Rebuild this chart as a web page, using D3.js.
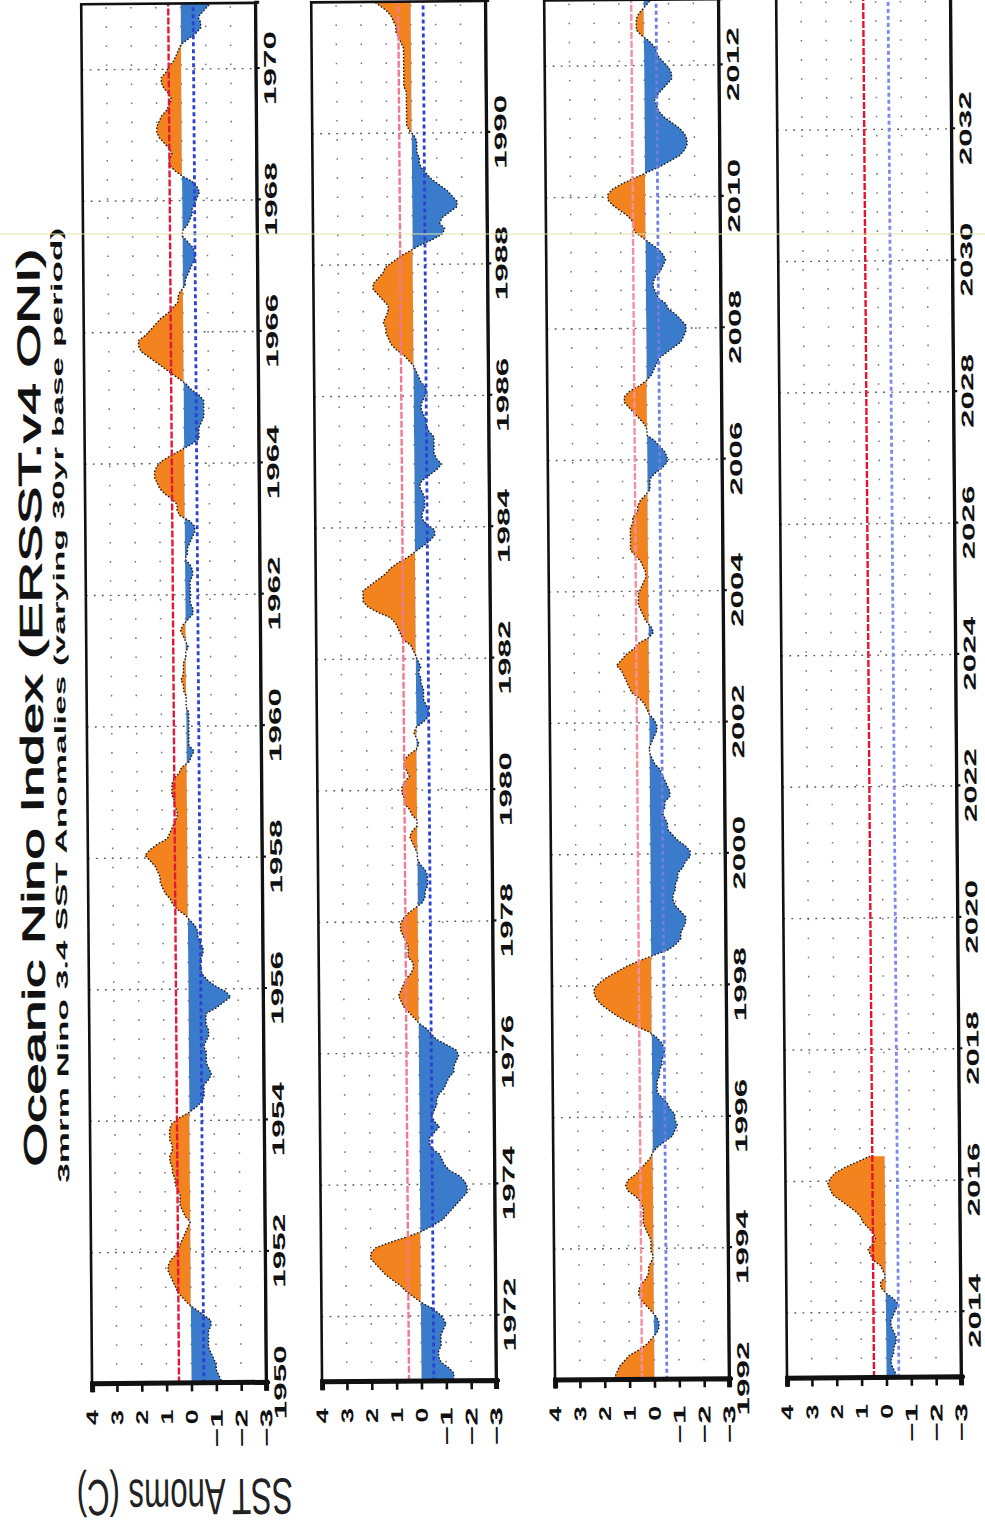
<!DOCTYPE html>
<html>
<head>
<meta charset="utf-8">
<script src="https://cdn.jsdelivr.net/npm/d3@7"></script>
<style>
  body { margin: 0; background: #fff; }
  svg { display: block; }
</style>
</head>
<body>
<script>
// ---- data -------------------------------------------------------------
// 3-month running-mean Nino 3.4 anomalies (deg C), one row per year,
// seasons DJF .. NDJ, starting 1950 and running to AMJ 2016.
const seasons = ["DJF","JFM","FMA","MAM","AMJ","MJJ","JJA","JAS","ASO","SON","OND","NDJ"];
const firstYear = 1950;
const oni = [
  -1.2,-1.1,-1.0,-1.0,-0.9,-0.8,-0.7,-0.7,-0.7,-0.7,-0.8,-0.8, // 1950
  -0.5,-0.2, 0.1, 0.3, 0.5, 0.6, 0.7, 0.8, 0.9, 0.9, 0.8, 0.6, // 1951
   0.5, 0.4, 0.3, 0.2, 0.1, 0.0, 0.2, 0.3, 0.4, 0.4, 0.4, 0.5, // 1952
   0.6, 0.6, 0.7, 0.7, 0.8, 0.8, 0.7, 0.7, 0.8, 0.8, 0.8, 0.7, // 1953
   0.4, 0.0,-0.3,-0.5,-0.6,-0.6,-0.6,-0.8,-0.9,-0.8,-0.7,-0.7, // 1954
  -0.7,-0.6,-0.7,-0.8,-0.8,-0.7,-0.7,-0.7,-1.1,-1.4,-1.7,-1.5, // 1955
  -1.1,-0.8,-0.6,-0.5,-0.5,-0.5,-0.6,-0.6,-0.5,-0.4,-0.4,-0.3, // 1956
  -0.1, 0.1, 0.4, 0.6, 0.7, 0.9, 1.0, 1.1, 1.1, 1.2, 1.3, 1.5, // 1957
   1.7, 1.5, 1.2, 0.8, 0.7, 0.6, 0.5, 0.4, 0.4, 0.5, 0.5, 0.6, // 1958
   0.6, 0.6, 0.5, 0.3, 0.2,-0.1,-0.2,-0.3,-0.1,-0.1,-0.1,-0.1, // 1959
  -0.1,-0.1,-0.1, 0.0, 0.0, 0.0, 0.1, 0.1, 0.2, 0.1, 0.1, 0.1, // 1960
   0.0, 0.0,-0.1, 0.0, 0.1, 0.2, 0.1,-0.1,-0.3,-0.3,-0.2,-0.2, // 1961
  -0.2,-0.2,-0.2,-0.3,-0.3,-0.2, 0.0,-0.1,-0.1,-0.2,-0.3,-0.4, // 1962
  -0.4,-0.2, 0.2, 0.3, 0.3, 0.5, 0.8, 1.0, 1.1, 1.2, 1.2, 1.1, // 1963
   0.9, 0.5, 0.1,-0.3,-0.6,-0.6,-0.6,-0.7,-0.8,-0.8,-0.8,-0.8, // 1964
  -0.6,-0.3,-0.1, 0.2, 0.5, 0.8, 1.1, 1.4, 1.7, 1.8, 1.8, 1.5, // 1965
   1.3, 1.1, 0.9, 0.6, 0.4, 0.2, 0.2, 0.1,-0.1,-0.1,-0.2,-0.3, // 1966
  -0.4,-0.5,-0.5,-0.4,-0.2, 0.0, 0.0,-0.2,-0.3,-0.4,-0.4,-0.5, // 1967
  -0.6,-0.7,-0.6,-0.4, 0.0, 0.3, 0.5, 0.5, 0.4, 0.5, 0.7, 0.9, // 1968
   1.0, 1.0, 0.9, 0.8, 0.6, 0.5, 0.4, 0.5, 0.7, 0.8, 0.8, 0.6, // 1969
   0.5, 0.3, 0.2, 0.1, 0.0,-0.3,-0.6,-0.8,-0.8,-0.7,-0.9,-1.1, // 1970
  -1.3,-1.3,-1.1,-0.8,-0.7,-0.7,-0.8,-0.8,-0.8,-0.9,-1.0,-0.9, // 1971
  -0.7,-0.4, 0.0, 0.3, 0.6, 0.8, 1.1, 1.4, 1.6, 1.8, 2.0, 2.0, // 1972
   1.8, 1.2, 0.5,-0.1,-0.5,-0.9,-1.1,-1.3,-1.5,-1.7,-1.9,-1.9, // 1973
  -1.8,-1.6,-1.2,-1.0,-0.9,-0.8,-0.5,-0.4,-0.4,-0.6,-0.8,-0.6, // 1974
  -0.5,-0.6,-0.7,-0.7,-0.8,-1.0,-1.1,-1.2,-1.4,-1.4,-1.5,-1.6, // 1975
  -1.5,-1.1,-0.7,-0.5,-0.3, 0.0, 0.2, 0.4, 0.6, 0.7, 0.8, 0.7, // 1976
   0.6, 0.5, 0.3, 0.2, 0.2, 0.4, 0.4, 0.4, 0.5, 0.6, 0.7, 0.7, // 1977
   0.6, 0.4, 0.1,-0.2,-0.3,-0.3,-0.4,-0.4,-0.4,-0.3,-0.1, 0.0, // 1978
   0.0, 0.1, 0.2, 0.3, 0.2, 0.0, 0.0, 0.2, 0.3, 0.5, 0.5, 0.6, // 1979
   0.6, 0.5, 0.3, 0.4, 0.5, 0.5, 0.3, 0.0,-0.1, 0.0, 0.1, 0.0, // 1980
  -0.3,-0.5,-0.5,-0.4,-0.3,-0.3,-0.3,-0.2,-0.2,-0.1,-0.2,-0.1, // 1981
   0.0, 0.1, 0.2, 0.5, 0.6, 0.7, 0.8, 1.0, 1.5, 1.9, 2.1, 2.1, // 1982
   2.1, 1.8, 1.5, 1.2, 1.0, 0.7, 0.3, 0.0,-0.3,-0.6,-0.8,-0.8, // 1983
  -0.5,-0.3,-0.3,-0.4,-0.4,-0.4,-0.3,-0.2,-0.3,-0.6,-0.9,-1.1, // 1984
  -0.9,-0.8,-0.8,-0.8,-0.8,-0.6,-0.5,-0.5,-0.4,-0.3,-0.3,-0.4, // 1985
  -0.5,-0.5,-0.3,-0.2,-0.1, 0.0, 0.2, 0.4, 0.7, 0.9, 1.0, 1.1, // 1986
   1.1, 1.2, 1.1, 1.0, 1.0, 1.2, 1.4, 1.6, 1.6, 1.4, 1.2, 1.1, // 1987
   0.8, 0.5, 0.1,-0.3,-0.8,-1.2,-1.3,-1.1,-1.2,-1.5,-1.8,-1.8, // 1988
  -1.6,-1.4,-1.1,-0.8,-0.6,-0.4,-0.3,-0.3,-0.2,-0.2,-0.2,-0.1, // 1989
   0.1, 0.2, 0.2, 0.2, 0.2, 0.2, 0.2, 0.2, 0.3, 0.3, 0.3, 0.3, // 1990
   0.3, 0.3, 0.3, 0.3, 0.4, 0.5, 0.6, 0.6, 0.7, 0.8, 1.0, 1.3, // 1991
   1.6, 1.5, 1.4, 1.2, 1.0, 0.6, 0.3, 0.1,-0.1,-0.2,-0.2,-0.1, // 1992
   0.1, 0.3, 0.5, 0.6, 0.6, 0.5, 0.3, 0.2, 0.2, 0.1, 0.0, 0.1, // 1993
   0.1, 0.1, 0.2, 0.3, 0.4, 0.4, 0.4, 0.4, 0.5, 0.7, 1.0, 1.1, // 1994
   1.0, 0.7, 0.5, 0.3, 0.1, 0.0,-0.2,-0.5,-0.8,-0.9,-1.0,-0.9, // 1995
  -0.9,-0.7,-0.6,-0.4,-0.2,-0.2,-0.2,-0.3,-0.3,-0.4,-0.4,-0.5, // 1996
  -0.5,-0.4,-0.2, 0.1, 0.6, 1.0, 1.4, 1.7, 2.0, 2.2, 2.3, 2.3, // 1997
   2.1, 1.8, 1.4, 1.0, 0.5,-0.1,-0.7,-1.0,-1.2,-1.2,-1.3,-1.4, // 1998
  -1.4,-1.2,-1.0,-0.9,-0.9,-1.0,-1.0,-1.1,-1.1,-1.3,-1.4,-1.6, // 1999
  -1.6,-1.4,-1.1,-0.9,-0.7,-0.7,-0.6,-0.5,-0.6,-0.6,-0.8,-0.8, // 2000
  -0.7,-0.6,-0.5,-0.4,-0.2,-0.1, 0.0, 0.0,-0.1,-0.2,-0.3,-0.3, // 2001
  -0.2, 0.0, 0.1, 0.2, 0.4, 0.7, 0.8, 0.9, 1.0, 1.1, 1.3, 1.1, // 2002
   0.9, 0.6, 0.4, 0.0,-0.2,-0.1, 0.1, 0.2, 0.3, 0.4, 0.4, 0.4, // 2003
   0.3, 0.2, 0.1, 0.1, 0.2, 0.3, 0.5, 0.7, 0.7, 0.7, 0.7, 0.7, // 2004
   0.6, 0.6, 0.4, 0.4, 0.3, 0.1,-0.1,-0.1,-0.1,-0.3,-0.6,-0.8, // 2005
  -0.8,-0.7,-0.5,-0.3, 0.0, 0.0, 0.1, 0.3, 0.5, 0.7, 0.9, 0.9, // 2006
   0.7, 0.3, 0.0,-0.2,-0.3,-0.4,-0.5,-0.8,-1.1,-1.4,-1.5,-1.6, // 2007
  -1.6,-1.4,-1.2,-0.9,-0.8,-0.5,-0.4,-0.3,-0.3,-0.4,-0.6,-0.7, // 2008
  -0.8,-0.7,-0.5,-0.2, 0.1, 0.4, 0.5, 0.5, 0.7, 1.0, 1.3, 1.5, // 2009
   1.5, 1.3, 0.9, 0.4,-0.1,-0.6,-1.0,-1.4,-1.6,-1.7,-1.7,-1.6, // 2010
  -1.4,-1.1,-0.8,-0.6,-0.5,-0.4,-0.5,-0.7,-0.9,-1.1,-1.1,-1.0, // 2011
  -0.8,-0.6,-0.5,-0.4,-0.2, 0.1, 0.3, 0.3, 0.3, 0.2, 0.0,-0.2, // 2012
  -0.4,-0.3,-0.2,-0.2,-0.3,-0.3,-0.4,-0.4,-0.3,-0.2,-0.2,-0.3, // 2013
  -0.4,-0.5,-0.3, 0.0, 0.2, 0.2, 0.0, 0.1, 0.2, 0.5, 0.6, 0.7, // 2014
   0.5, 0.4, 0.5, 0.7, 0.9, 1.0, 1.2, 1.5, 1.8, 2.1, 2.2, 2.3, // 2015
   2.2, 2.0, 1.6, 1.1, 0.6                                      // 2016
];

// panel layout: each strip covers 21 years
const panelStarts = [1950, 1971, 1992, 2013];
const panelSpan = 21;
const yearTicks = [
  [1950, 1952, 1954, 1956, 1958, 1960, 1962, 1964, 1966, 1968, 1970],
  [1972, 1974, 1976, 1978, 1980, 1982, 1984, 1986, 1988, 1990],
  [1992, 1994, 1996, 1998, 2000, 2002, 2004, 2006, 2008, 2010, 2012],
  [2014, 2016, 2018, 2020, 2022, 2024, 2026, 2028, 2030, 2032]
];
const valueTicks = [-3, -2, -1, 0, 1, 2, 3, 4];
const valueGrid = [-2, -1, 0, 1, 2, 3];
const thresholds = [0.5, -0.5];

const titleText = "Oceanic Nino Index (ERSST.v4 ONI)";
const subtitleText = "3mrm Nino 3.4 SST Anomalies (varying 30yr base period)";
const axisTitleText = "SST Anoms (C)";

// ---- drawing ----------------------------------------------------------
const W = 985, H = 1532;
const FONT = "'Liberation Sans', Arial, Helvetica, sans-serif";

const series = oni.map((v, i) => ({
  t: firstYear + Math.floor(i / 12) + ((i % 12) + 0.5) / 12,
  v
}));

const svg = d3.select("body").append("svg")
  .attr("width", W).attr("height", H)
  .attr("viewBox", `0 0 ${W} ${H}`);

svg.append("rect").attr("width", W).attr("height", H).attr("fill", "#fff");
const defs = svg.append("defs");

// the sheet is laid out landscape and turned a quarter turn to stand upright
const sheet = svg.append("g").attr("transform", "rotate(-0.45, 492, 766)");
const chart = sheet.append("g").attr("transform", `translate(0, ${H}) rotate(-90)`);

// chart coordinates: x runs along time, y runs down the value axis
const plotX0 = 151, plotX1 = 1531;
const panelTops = [87.2, 317.2, 550.2, 782.2];
const panelH = 174;

const orange = "#F3831E";
const blue = "#3B7BCB";
// threshold line inks, one pair per strip
const warmInk = ["#E3163C", "#F07A90", "#F3909F", "#E6112E"];
const coldInk = ["#2C40D6", "#2C40D6", "#6F7DE4", "#7C88EA"];

panelStarts.forEach((start, k) => {
  const top = panelTops[k];
  const bottom = top + panelH;
  const x = d3.scaleLinear().domain([start, start + panelSpan]).range([plotX0, plotX1]);
  const y = d3.scaleLinear().domain([-3, 4]).range([bottom, top]);
  const y0 = y(0);

  const g = chart.append("g").attr("class", "panel");

  // clip regions: whole panel, warm half, cold half
  const clipId = `clip-${k}`, warmId = `warm-${k}`, coldId = `cold-${k}`;
  defs.append("clipPath").attr("id", clipId).append("rect")
    .attr("x", plotX0).attr("y", top).attr("width", plotX1 - plotX0).attr("height", panelH);
  defs.append("clipPath").attr("id", warmId).append("rect")
    .attr("x", plotX0).attr("y", top).attr("width", plotX1 - plotX0).attr("height", y0 - top);
  defs.append("clipPath").attr("id", coldId).append("rect")
    .attr("x", plotX0).attr("y", y0).attr("width", plotX1 - plotX0).attr("height", bottom - y0);

  // dotted value grid
  g.append("g").selectAll("line").data(valueGrid).join("line")
    .attr("x1", plotX0).attr("x2", plotX1)
    .attr("y1", d => y(d)).attr("y2", d => y(d))
    .attr("stroke", "#777").attr("stroke-width", 1.5)
    .attr("stroke-dasharray", "1.6,17.5");

  // dotted time grid at the labelled years
  g.append("g").selectAll("line")
    .data(yearTicks[k].filter(d => d > start && d < start + panelSpan)).join("line")
    .attr("x1", d => x(d)).attr("x2", d => x(d))
    .attr("y1", top).attr("y2", bottom)
    .attr("stroke", "#555").attr("stroke-width", 1.4)
    .attr("stroke-dasharray", "1.8,6.2");

  const pts = series.filter(d => d.t >= start - 0.2 && d.t <= start + panelSpan + 0.2);

  const area = d3.area()
    .x(d => x(d.t))
    .y0(y0)
    .y1(d => y(d.v));

  const body = g.append("g").attr("clip-path", `url(#${clipId})`);
  body.append("path").datum(pts)
    .attr("d", area).attr("fill", orange)
    .attr("clip-path", `url(#${warmId})`);
  body.append("path").datum(pts)
    .attr("d", area).attr("fill", blue)
    .attr("clip-path", `url(#${coldId})`);

  // anomaly outline
  body.append("path").datum(pts)
    .attr("d", d3.line().x(d => x(d.t)).y(d => y(d.v)))
    .attr("fill", "none").attr("stroke", "#1b1b1b")
    .attr("stroke-width", 1.4).attr("stroke-dasharray", "1.6,1.8");

  // El Nino / La Nina thresholds
  body.append("line")
    .attr("x1", plotX0).attr("x2", plotX1)
    .attr("y1", y(thresholds[0])).attr("y2", y(thresholds[0]))
    .attr("stroke", warmInk[k]).attr("stroke-width", 2.4)
    .attr("stroke-dasharray", "7,2");
  body.append("line")
    .attr("x1", plotX0).attr("x2", plotX1)
    .attr("y1", y(thresholds[1])).attr("y2", y(thresholds[1]))
    .attr("stroke", coldInk[k]).attr("stroke-width", 2.8)
    .attr("stroke-dasharray", "4,3");

  // frame
  g.append("rect")
    .attr("x", plotX0).attr("y", top)
    .attr("width", plotX1 - plotX0).attr("height", panelH)
    .attr("fill", "none").attr("stroke", "#111").attr("stroke-width", 2.6);

  // value axis
  const yAxis = g.append("g")
    .attr("transform", `translate(${plotX0},0)`)
    .call(d3.axisLeft(y).tickValues(valueTicks).tickSize(8).tickPadding(18)
      .tickFormat(d => d < 0 ? "\u2212" + (-d) : String(d)));
  yAxis.select(".domain").attr("stroke", "#111").attr("stroke-width", 5);
  yAxis.selectAll(".tick line").attr("stroke", "#111").attr("stroke-width", 2.6);
  yAxis.selectAll(".tick text")
    .attr("fill", "#111")
    .style("font-family", FONT).style("font-weight", "bold").style("font-size", "17px")
    .attr("textLength", d => d < 0 ? 38 : 15)
    .attr("lengthAdjust", "spacingAndGlyphs");

  // time axis
  const xAxis = g.append("g")
    .attr("transform", `translate(0,${bottom})`)
    .call(d3.axisBottom(x).tickValues(yearTicks[k]).tickSize(4).tickPadding(4)
      .tickFormat(d3.format("d")));
  xAxis.select(".domain").attr("stroke", "#111").attr("stroke-width", 3);
  xAxis.selectAll(".tick line").attr("stroke", "#111").attr("stroke-width", 2.2);
  xAxis.selectAll(".tick text")
    .attr("fill", "#111")
    .style("font-family", FONT).style("font-weight", "bold").style("font-size", "17px")
    .attr("textLength", 74)
    .attr("lengthAdjust", "spacingAndGlyphs");
});

// titles
chart.append("text")
  .attr("x", 828).attr("y", 43)
  .attr("text-anchor", "middle")
  .style("font-family", FONT).style("font-weight", "normal").style("font-size", "31.5px")
  .attr("fill", "#111").attr("stroke", "#111").attr("stroke-width", 0.9)
  .attr("textLength", 918).attr("lengthAdjust", "spacingAndGlyphs")
  .text(titleText);

chart.append("text")
  .attr("x", 830).attr("y", 66)
  .attr("text-anchor", "middle")
  .style("font-family", FONT).style("font-weight", "bold").style("font-size", "16px")
  .attr("fill", "#111")
  .attr("textLength", 955).attr("lengthAdjust", "spacingAndGlyphs")
  .text(subtitleText);

// value-axis title: tall, narrow lettering set along the value axis
chart.append("text")
  .attr("transform", "translate(55,179) rotate(-90) scale(1.04,1.7)")
  .attr("text-anchor", "middle")
  .style("font-family", FONT).style("font-weight", "normal").style("font-size", "30px")
  .attr("fill", "#222")
  .text(axisTitleText);

// thin pale rule across the sheet
svg.append("line")
  .attr("x1", 0).attr("x2", W).attr("y1", 234).attr("y2", 234)
  .attr("stroke", "#E2E6AE").attr("stroke-width", 1.2);
</script>
</body>
</html>
